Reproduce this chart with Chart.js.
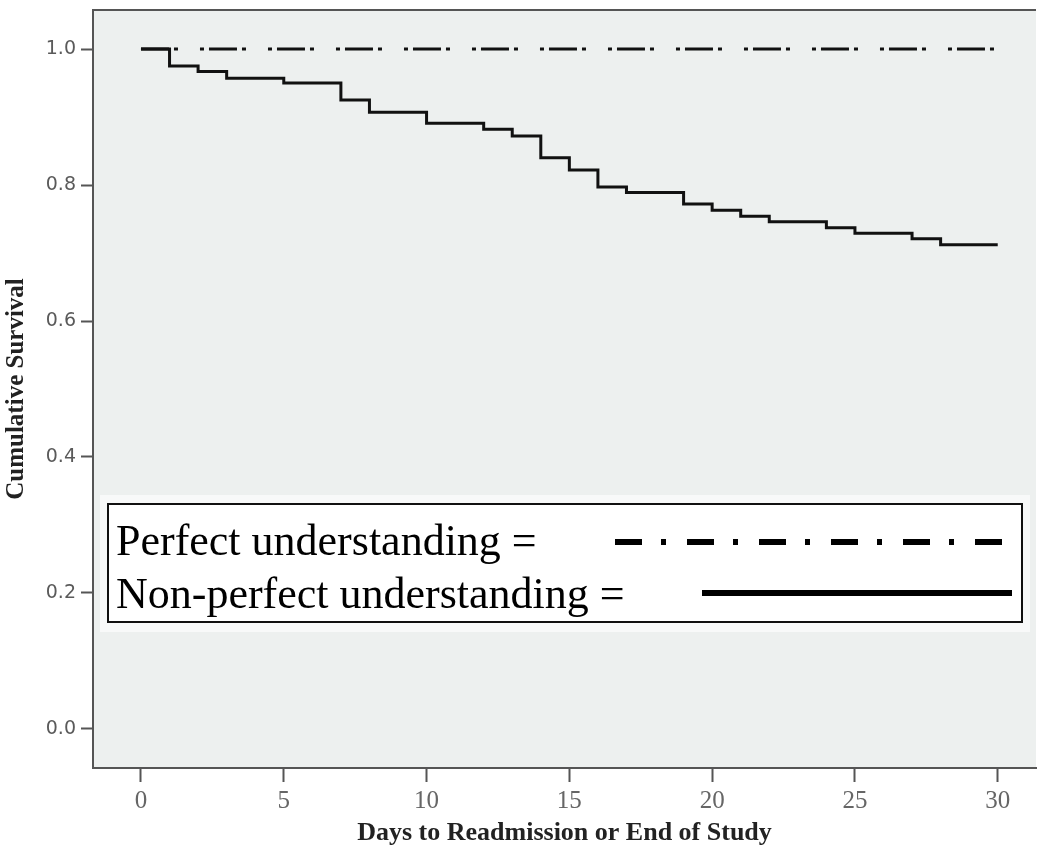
<!DOCTYPE html>
<html>
<head>
<meta charset="utf-8">
<script src="https://cdn.jsdelivr.net/npm/chart.js@4/dist/chart.umd.min.js"></script>
<style>
html,body{margin:0;padding:0;background:#fff;}
#wrap{width:1038px;height:851px;}
</style>
</head>
<body>
<div id="wrap"><canvas id="c" width="1038" height="851"></canvas></div>
<script>
// ---- data ----
const kmTimes = [0, 1, 2, 3, 5, 7, 8, 10, 12, 13, 14, 15, 16, 17, 19, 20, 21, 22, 24, 25, 27, 28, 30];
const nonPerfectSurvival = [1.0, 0.975, 0.967, 0.957, 0.950, 0.925, 0.907, 0.891, 0.882, 0.872, 0.840, 0.822, 0.797, 0.789, 0.772, 0.763, 0.754, 0.746, 0.737, 0.729, 0.721, 0.712, 0.712];
const perfectTimes = [0, 30];
const perfectSurvival = [1.0, 1.0];
const xTicks = [0, 5, 10, 15, 20, 25, 30];
const yTicks = [0.0, 0.2, 0.4, 0.6, 0.8, 1.0];
const seriesNames = ['Perfect understanding =', 'Non-perfect understanding ='];
const xTitle = 'Days to Readmission or End of Study';
const yTitle = 'Cumulative Survival';

const frameColor = '#555555';
const plotBg = '#edf0ef';

const bgPlugin = {
  id: 'plotBg',
  beforeDraw(chart) {
    const {ctx, chartArea: a} = chart;
    ctx.save();
    ctx.fillStyle = plotBg;
    ctx.fillRect(a.left, a.top, a.right - a.left, a.bottom - a.top);
    ctx.strokeStyle = frameColor;
    ctx.lineWidth = 2;
    ctx.beginPath();
    ctx.moveTo(a.left, a.top);
    ctx.lineTo(a.right, a.top);
    ctx.stroke();
    ctx.restore();
  }
};

const legendPlugin = {
  id: 'boxLegend',
  afterDatasetsDraw(chart) {
    const {ctx, chartArea: a} = chart;
    const L = a.left + 15, R = a.right - 14, T = a.top + 494, B = a.top + 612;
    ctx.save();
    ctx.fillStyle = '#f8f9f9';
    ctx.fillRect(L - 8, T - 9, (R - L) + 16, (B - T) + 19);
    ctx.fillStyle = '#ffffff';
    ctx.fillRect(L, T, R - L, B - T);
    ctx.strokeStyle = '#111';
    ctx.lineWidth = 2;
    ctx.strokeRect(L, T, R - L, B - T);
    ctx.fillStyle = '#000';
    ctx.font = '44px "Liberation Serif", "Times New Roman", serif';
    ctx.textBaseline = 'middle';
    ctx.textAlign = 'left';
    ctx.fillText(seriesNames[0], L + 8, T + 39);
    ctx.fillText(seriesNames[1], L + 8, T + 92);
    ctx.strokeStyle = '#000';
    ctx.lineWidth = 6;
    ctx.lineCap = 'butt';
    ctx.setLineDash([27, 19, 5, 21]);
    ctx.beginPath();
    ctx.moveTo(L + 507, T + 38);
    ctx.lineTo(R - 15, T + 38);
    ctx.stroke();
    ctx.setLineDash([]);
    ctx.beginPath();
    ctx.moveTo(L + 594, T + 89);
    ctx.lineTo(R - 10, T + 89);
    ctx.stroke();
    ctx.restore();
  }
};

new Chart(document.getElementById('c'), {
  type: 'line',
  data: {
    datasets: [
      {
        label: seriesNames[0],
        data: perfectTimes.map((t, i) => ({x: t, y: perfectSurvival[i]})),
        borderColor: '#111',
        borderWidth: 3,
        borderDash: [28, 5, 4, 22, 4, 5],
        borderCapStyle: 'butt',
        pointRadius: 0,
        fill: false,
        stepped: false
      },
      {
        label: seriesNames[1],
        data: kmTimes.map((t, i) => ({x: t, y: nonPerfectSurvival[i]})),
        borderColor: '#111',
        borderWidth: 3,
        pointRadius: 0,
        fill: false,
        stepped: 'before'
      }
    ]
  },
  plugins: [bgPlugin, legendPlugin],
  options: {
    responsive: false,
    animation: false,
    layout: {padding: {top: 10, right: 2, left: 0, bottom: 0}},
    plugins: {legend: {display: false}, tooltip: {enabled: false}},
    scales: {
      x: {
        type: 'linear',
        min: -1.68,
        max: 31.34,
        afterFit(s) { s.height = 83; s.paddingLeft = 0; s.paddingRight = 0; },
        afterBuildTicks(s) { s.ticks = xTicks.map(v => ({value: v})); },
        grid: {drawOnChartArea: false, drawTicks: true, tickLength: 14, tickColor: frameColor, tickWidth: 2},
        border: {display: true, color: frameColor, width: 2},
        ticks: {
          color: '#666',
          padding: 4,
          maxRotation: 0,
          font: {family: '"Liberation Serif", "Times New Roman", serif', size: 25},
          callback: v => String(v)
        },
        title: {
          display: true,
          text: xTitle,
          color: '#222',
          font: {family: '"Liberation Serif", "Times New Roman", serif', size: 26, weight: 'bold'},
          padding: {top: 0, bottom: 2}
        }
      },
      y: {
        type: 'linear',
        min: -0.0574,
        max: 1.0574,
        afterFit(s) { s.width = 93; s.paddingTop = 0; s.paddingBottom = 0; },
        afterBuildTicks(s) { s.ticks = yTicks.map(v => ({value: v})); },
        grid: {drawOnChartArea: false, drawTicks: true, tickLength: 12, tickColor: frameColor, tickWidth: 2},
        border: {display: true, color: frameColor, width: 2},
        ticks: {
          color: '#5a5a5a',
          padding: 5,
          font: {family: '"DejaVu Sans", sans-serif', size: 19},
          callback: v => v.toFixed(1)
        },
        title: {
          display: true,
          text: yTitle,
          color: '#222',
          font: {family: '"Liberation Serif", "Times New Roman", serif', size: 25, weight: 'bold'},
          padding: {top: 2, bottom: 0}
        }
      }
    }
  }
});
</script>
</body>
</html>
